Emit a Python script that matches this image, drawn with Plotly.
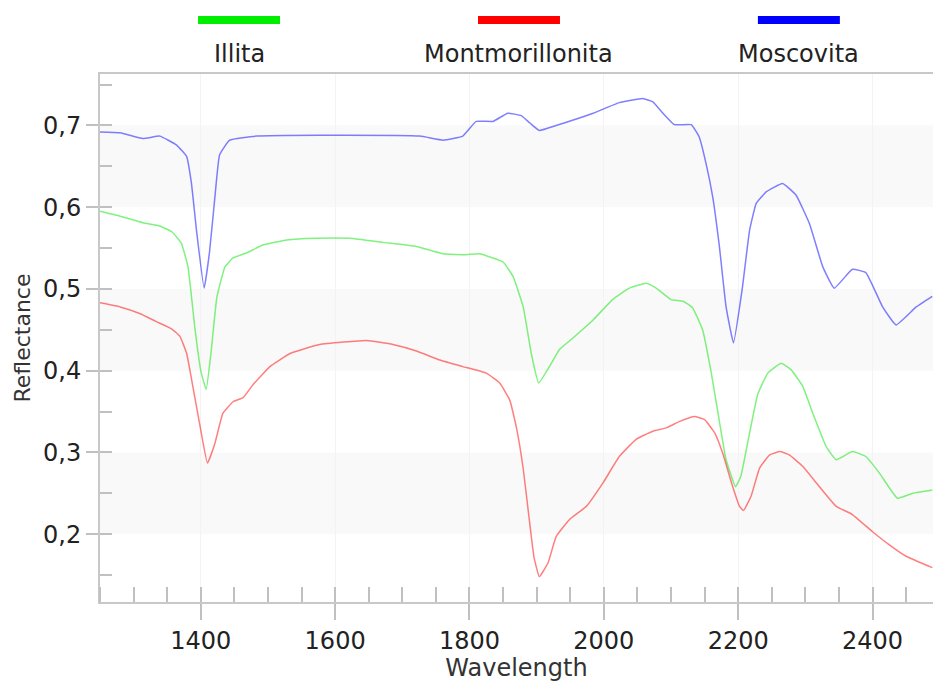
import plotly.graph_objects as go

# ---- data ----
series_names = ["Illita", "Montmorillonita", "Moscovita"]

illita_wl = [1250, 1280, 1314, 1339, 1357, 1371, 1381, 1391, 1400, 1408, 1415, 1424, 1436, 1448, 1468, 1493,
             1528, 1572, 1622, 1671, 1721, 1761, 1795, 1815, 1850, 1865, 1880, 1892, 1903, 1919, 1934, 1954,
             1984, 2013, 2038, 2063, 2078, 2100, 2118, 2132, 2147, 2160, 2170, 2182, 2196, 2204, 2217, 2229,
             2244, 2264, 2279, 2296, 2311, 2331, 2346, 2370, 2390, 2410, 2437, 2460, 2489]
illita_val = [0.595, 0.589, 0.581, 0.577, 0.570, 0.556, 0.527, 0.454, 0.400, 0.377, 0.420, 0.490, 0.527, 0.538, 0.544, 0.554,
              0.560, 0.562, 0.562, 0.557, 0.552, 0.543, 0.542, 0.543, 0.533, 0.515, 0.478, 0.421, 0.385, 0.405, 0.426, 0.440,
              0.462, 0.487, 0.501, 0.507, 0.501, 0.487, 0.485, 0.477, 0.450, 0.397, 0.348, 0.291, 0.258, 0.271, 0.324, 0.371,
              0.397, 0.409, 0.401, 0.381, 0.348, 0.307, 0.291, 0.301, 0.295, 0.275, 0.244, 0.250, 0.254]

montm_wl = [1250, 1280, 1309, 1334, 1357, 1369, 1379, 1389, 1399, 1410, 1421, 1433, 1448, 1463, 1478, 1503,
            1533, 1577, 1647, 1686, 1721, 1756, 1790, 1825, 1845, 1860, 1870, 1880, 1888, 1896, 1904, 1917,
            1929, 1949, 1974, 1999, 2023, 2048, 2073, 2093, 2113, 2135, 2150, 2165, 2177, 2190, 2202, 2208,
            2219, 2232, 2247, 2262, 2276, 2296, 2321, 2346, 2370, 2400, 2425, 2450, 2489]
montm_val = [0.483, 0.478, 0.470, 0.460, 0.451, 0.442, 0.421, 0.377, 0.332, 0.287, 0.311, 0.348, 0.362, 0.367, 0.383, 0.405,
             0.421, 0.432, 0.437, 0.432, 0.424, 0.413, 0.405, 0.397, 0.385, 0.364, 0.330, 0.280, 0.225, 0.172, 0.148, 0.165,
             0.197, 0.218, 0.234, 0.263, 0.295, 0.316, 0.326, 0.330, 0.338, 0.344, 0.340, 0.324, 0.299, 0.263, 0.234, 0.229,
             0.246, 0.281, 0.297, 0.301, 0.297, 0.283, 0.258, 0.234, 0.224, 0.203, 0.187, 0.173, 0.159]

mosc_wl = [1250, 1280, 1314, 1339, 1364, 1379, 1386, 1394, 1405, 1413, 1421, 1428, 1443, 1483, 1577, 1726,
           1761, 1790, 1810, 1835, 1857, 1877, 1890, 1904, 1929, 1984, 2023, 2058, 2073, 2088, 2105, 2130,
           2142, 2152, 2162, 2172, 2182, 2193, 2206, 2217, 2227, 2242, 2266, 2286, 2306, 2326, 2343, 2370,
           2390, 2415, 2435, 2465, 2489]
mosc_val = [0.692, 0.691, 0.684, 0.687, 0.676, 0.662, 0.630, 0.569, 0.501, 0.545, 0.612, 0.664, 0.682, 0.687, 0.688, 0.687,
            0.682, 0.687, 0.705, 0.705, 0.715, 0.712, 0.703, 0.694, 0.700, 0.715, 0.728, 0.733, 0.729, 0.715, 0.701, 0.701,
            0.686, 0.654, 0.613, 0.552, 0.478, 0.434, 0.500, 0.572, 0.605, 0.619, 0.629, 0.615, 0.580, 0.527, 0.501, 0.524,
            0.520, 0.478, 0.456, 0.478, 0.491]

line_colors = ["rgba(0,230,0,0.5)", "rgba(255,0,0,0.5)", "rgba(0,0,255,0.5)"]
legend_colors = ["#00ee00", "#ff0000", "#0000ff"]

x_range = [1250, 2490]
y_range = [0.117, 0.763]
band_ranges = [(0.2, 0.3), (0.4, 0.5), (0.6, 0.7)]

FONT = "DejaVu Sans"

fig = go.Figure()
for name, wl, val, col in zip(series_names,
                              [illita_wl, montm_wl, mosc_wl],
                              [illita_val, montm_val, mosc_val],
                              line_colors):
    fig.add_trace(go.Scatter(x=wl, y=val, name=name, mode="lines",
                             line=dict(color=col, width=1.5, shape="spline", smoothing=0.35),
                             showlegend=False))

# alternating background bands
for y0, y1 in band_ranges:
    fig.add_shape(type="rect", xref="paper", yref="y", x0=0, x1=1, y0=y0, y1=y1,
                  fillcolor="#f9f9f9", line_width=0, layer="below")

# custom legend: swatch above name
legend_centers = [0.1669, 0.503, 0.839]
for name, col, cx in zip(series_names, legend_colors, legend_centers):
    fig.add_shape(type="rect", xref="paper", yref="paper", x0=cx - 0.0492, x1=cx + 0.0492,
                  y0=1.0947, y1=1.1098, fillcolor=col, line_width=0)
    fig.add_annotation(xref="paper", yref="paper", x=cx, y=1.037, text=name, showarrow=False,
                       xanchor="center", yanchor="middle",
                       font=dict(family=FONT, size=24, color="#222222"))

fig.update_layout(
    width=933, height=682,
    margin=dict(l=100, r=0, t=74, b=80),
    paper_bgcolor="white", plot_bgcolor="white",
    separators=",.",
    font=dict(family=FONT, size=24, color="#333333"),
    showlegend=False,
)
fig.update_xaxes(
    range=x_range, dtick=200, tick0=0, showgrid=True, gridcolor="#f3f3f3", gridwidth=1,
    zeroline=False, showline=True, linecolor="#c8c8c8", linewidth=2, mirror=True,
    ticks="outside", ticklen=16, tickwidth=1.5, tickcolor="#c0c0c0",
    minor=dict(dtick=50, tick0=0, ticks="inside", ticklen=15, tickwidth=1.5, tickcolor="#c0c0c0", showgrid=False),
    tickfont=dict(family=FONT, size=24, color="#222222"),
    title=dict(text="Wavelength", font=dict(family=FONT, size=24, color="#333333"), standoff=2),
)
fig.update_yaxes(
    range=y_range, dtick=0.1, tick0=0, tickformat=".1f", showgrid=False,
    zeroline=False, showline=True, linecolor="#c8c8c8", linewidth=2,
    ticks="outside", ticklen=12, tickwidth=1.5, tickcolor="#c0c0c0",
    minor=dict(dtick=0.05, tick0=0, ticks="inside", ticklen=12, tickwidth=1.5, tickcolor="#c0c0c0", showgrid=False),
    tickfont=dict(family=FONT, size=24, color="#222222"),
    title=dict(text="Reflectance", font=dict(family=FONT, size=22, color="#333333"), standoff=6),
)

fig.write_html("out.html")
